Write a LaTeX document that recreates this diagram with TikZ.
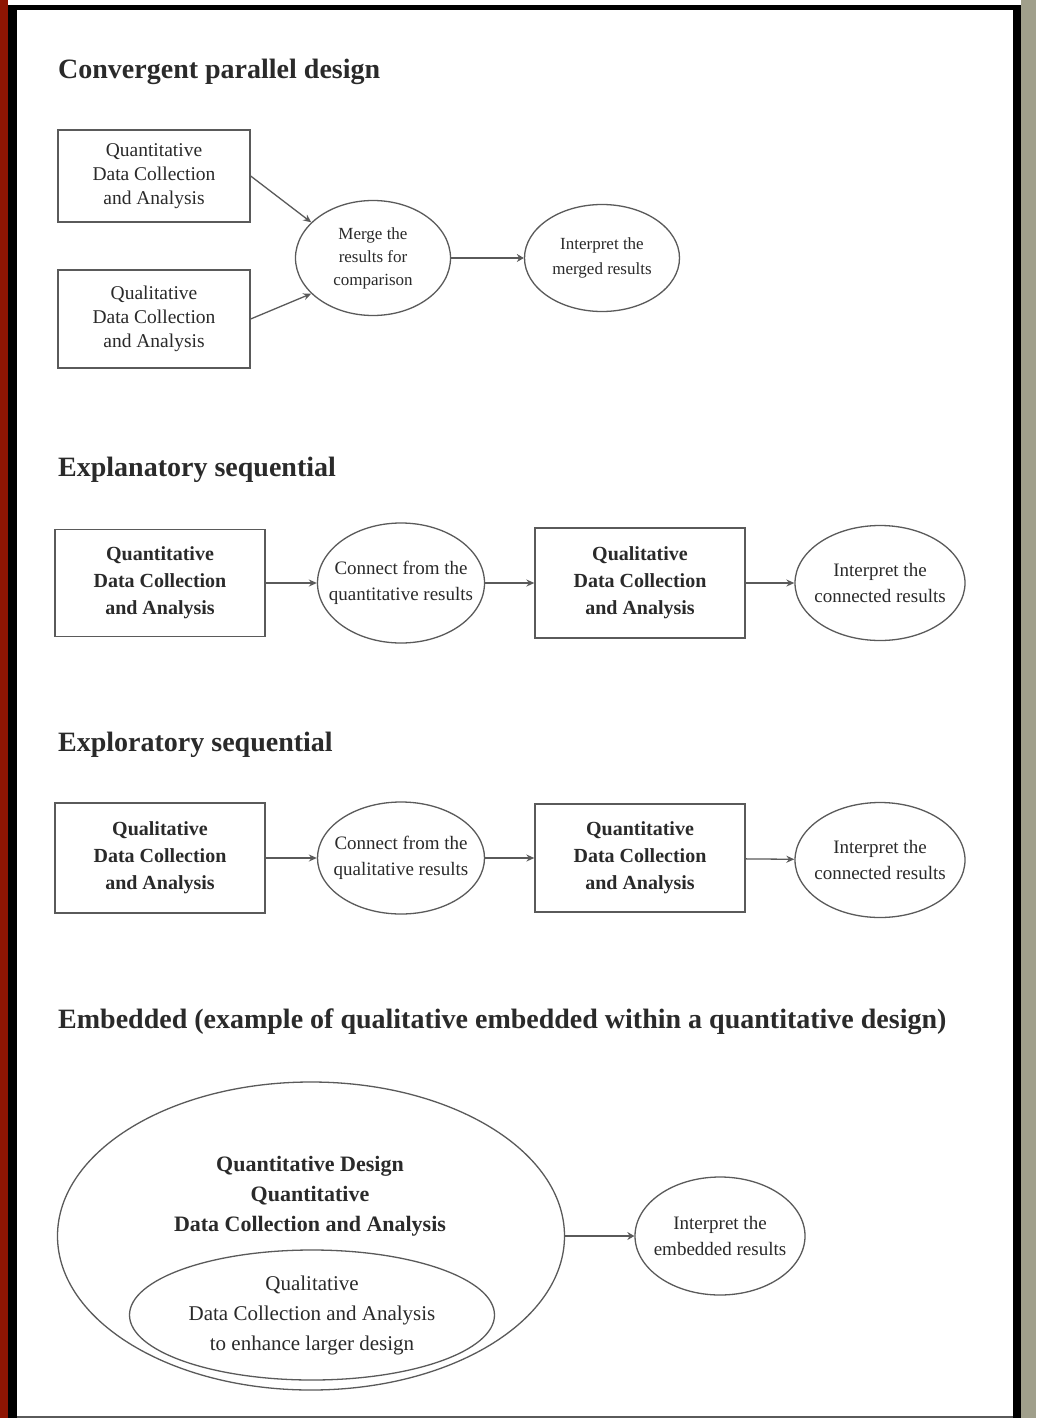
\documentclass[tikz,border=0pt]{standalone}
\usepackage{fontspec}
\setmainfont{Liberation Serif}
\usetikzlibrary{shapes.geometric,arrows.meta}
\definecolor{framered}{HTML}{8E1503}
\definecolor{framegray}{HTML}{A09F8B}
\definecolor{ink}{HTML}{2A2A2A}
\definecolor{linec}{HTML}{5A5A5A}
\tikzset{
  titletext/.style={anchor=west,inner sep=0pt,text=ink,font=\fontsize{28}{30}\selectfont\bfseries},
  boxnode/.style={draw=linec,line width=1.3pt,rectangle,align=center,inner sep=0pt,text=ink,font=\fontsize{20}{27}\selectfont\bfseries},
  boxlight/.style={boxnode,font=\fontsize{19.5}{24}\selectfont},
  ellnode/.style={draw=linec,line width=1.3pt,ellipse,align=center,inner xsep=-22pt,inner ysep=-14pt,text=ink,font=\fontsize{19}{26}\selectfont},
  arr/.style={draw=linec,line width=1.3pt,-{Stealth[length=8pt,width=7pt]}},
  thickarr/.style={draw=linec,line width=2.4pt,-{Stealth[length=7pt,width=8pt]}},
}
\begin{document}
\begin{tikzpicture}[x=1pt,y=-1pt]
\useasboundingbox (0,0) rectangle (1036,1418);
% frame
\fill[white] (0,0) rectangle (1036,1418);
\fill[framered] (0,0) rectangle (8,1418);
\fill[black] (8,5) rectangle (17,1418);
\fill[black] (8,5) rectangle (1021,10);
\fill[black] (1013,5) rectangle (1021,1418);
\fill[framegray] (1021,0) rectangle (1036,1418);
\fill[linec] (17,1416) rectangle (1013,1418);

% ---------- Convergent parallel design
\node[titletext] (t1) at (58,72) {Convergent parallel design};
\node[boxlight,minimum width=192pt,minimum height=92pt] (qn1) at (154,176) {Quantitative\\Data Collection\\and Analysis};
\node[boxlight,minimum width=192pt,minimum height=98pt] (ql1) at (154,319) {Qualitative\\Data Collection\\and Analysis};
\node[ellnode,minimum width=155pt,minimum height=115pt,font=\fontsize{17}{23}\selectfont] (merge) at (373,258) {Merge the\\results for\\comparison};
\node[ellnode,minimum width=155pt,minimum height=107pt,font=\fontsize{17}{25}\selectfont] (int1) at (602,258) {Interpret the\\merged results};
\draw[arr] (qn1.east) -- (merge.150);
\draw[arr] (ql1.east) -- (merge.210);
\draw[thickarr] (merge.east) -- (int1.west);

% ---------- Explanatory sequential
\node[titletext] (t2) at (58,470) {Explanatory sequential};
\node[boxnode,minimum width=210pt,minimum height=107pt] (qn2) at (160,583) {Quantitative\\Data Collection\\and Analysis};
\node[ellnode,minimum width=167pt,minimum height=120pt] (con2) at (401,583) {Connect from the\\quantitative results};
\node[boxnode,minimum width=210pt,minimum height=110pt] (ql2) at (640,583) {Qualitative\\Data Collection\\and Analysis};
\node[ellnode,minimum width=170pt,minimum height=115pt] (int2) at (880,583) {Interpret the\\connected results};
\draw[arr] (qn2) -- (con2);
\draw[arr] (con2) -- (ql2);
\draw[arr] (ql2) -- (int2);

% ---------- Exploratory sequential
\node[titletext] (t3) at (58,745) {Exploratory sequential};
\node[boxnode,minimum width=210pt,minimum height=110pt] (ql3) at (160,858) {Qualitative\\Data Collection\\and Analysis};
\node[ellnode,minimum width=167pt,minimum height=112pt] (con3) at (401,858) {Connect from the\\qualitative results};
\node[boxnode,minimum width=210pt,minimum height=108pt] (qn3) at (640,858) {Quantitative\\Data Collection\\and Analysis};
\node[ellnode,minimum width=170pt,minimum height=115pt] (int3) at (880,860) {Interpret the\\connected results};
\draw[arr] (ql3) -- (con3);
\draw[arr] (con3) -- (qn3);
\draw[arr] (qn3) -- (int3);

% ---------- Embedded
\node[titletext] (t4) at (58,1022) {Embedded (example of qualitative embedded within a quantitative design)};
\node[ellnode,minimum width=507pt,minimum height=308pt] (big) at (311,1236) {};
\node[align=center,inner sep=0pt,text=ink,font=\fontsize{22}{30}\selectfont\bfseries] (bigtext) at (310,1196) {Quantitative Design\\Quantitative\\Data Collection and Analysis};
\node[ellnode,minimum width=365pt,minimum height=130pt,font=\fontsize{21}{30}\selectfont] (inner) at (312,1315) {Qualitative\\Data Collection and Analysis\\to enhance larger design};
\node[ellnode,minimum width=170pt,minimum height=118pt] (int4) at (720,1236) {Interpret the\\embedded results};
\draw[thickarr] (big) -- (int4);
\end{tikzpicture}
\end{document}
